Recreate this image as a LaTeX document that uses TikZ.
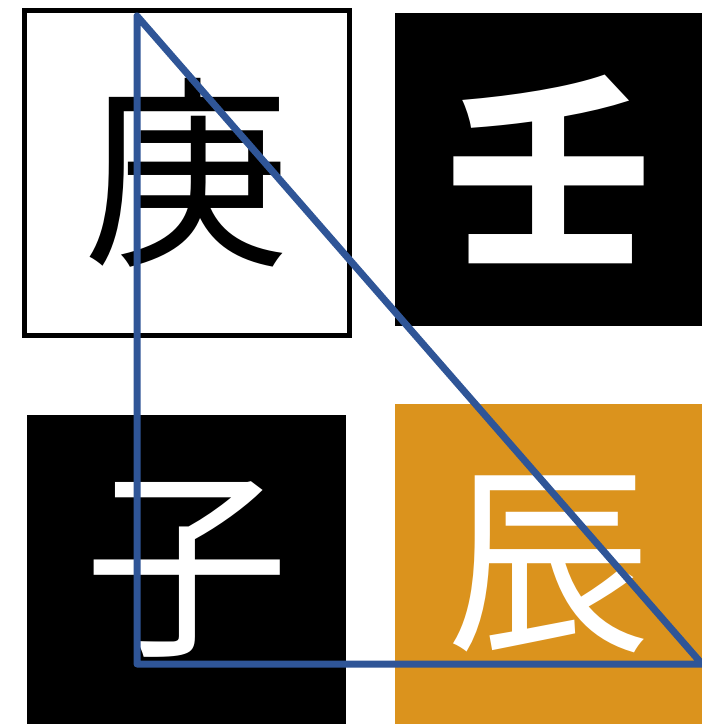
\documentclass[tikz,border=0pt]{standalone}
\usepackage{fontspec}
\newfontfamily\cjk{Noto Sans CJK JP}
\definecolor{ochre}{HTML}{DB931D}
\definecolor{lineblue}{HTML}{2F5597}

\tikzset{
    glyph/.style={inner sep=0pt, font=\cjk\fontsize{205}{205}\selectfont},
    darkbox/.style={glyph, fill=black, text=white}
}

\begin{document}
\begin{tikzpicture}[x=1pt,y=-1pt]
        \useasboundingbox (0,0) rectangle (702,724);

        \node[glyph, draw, line width=5pt, fill=white, minimum width=325pt, minimum height=325pt] (geng) at (186.5,172.5) {庚};
        \node[darkbox, font=\cjk\bfseries\fontsize{205}{205}\selectfont, minimum width=307pt, minimum height=313pt] (ren) at (548.5,169.5) {壬};
        \node[darkbox, minimum width=319pt, minimum height=309pt] (zi) at (186.5,569.5) {子};
        \node[glyph, fill=ochre, text=white, minimum width=307pt, minimum height=320pt] (chen) at (548.5,564) {辰};

        \coordinate (apex) at (137,16);
        \coordinate (corner) at (137,664);
        \coordinate (tip) at (702,664);

        \draw[lineblue, line width=7pt, line join=round] (apex) -- (corner) -- (tip) -- cycle;

    \end{tikzpicture}
\end{document}
